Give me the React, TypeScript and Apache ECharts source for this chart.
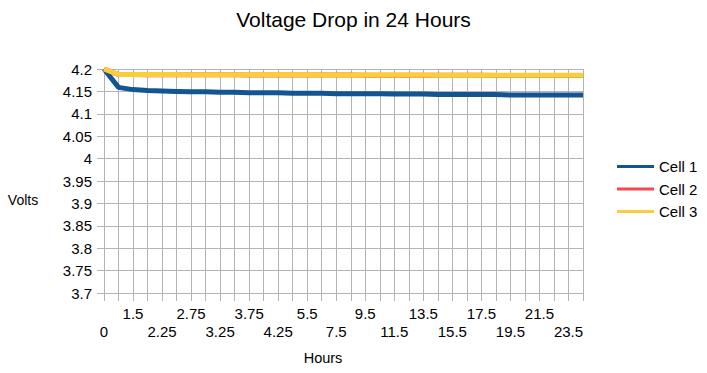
import React, { useEffect, useRef } from "react";
import * as echarts from "echarts";

const hours = ["0","1","1.5","2","2.25","2.5","2.75","3","3.25","3.5","3.75","4","4.25","4.5","5.5","6.5","7.5","8.5","9.5","10.5","11.5","12.5","13.5","14.5","15.5","16.5","17.5","18.5","19.5","20.5","21.5","22.5","23.5","24"];

const cell1 = [4.2,4.159,4.154,4.152,4.151,4.150,4.149,4.149,4.148,4.148,4.147,4.147,4.147,4.146,4.146,4.146,4.145,4.145,4.145,4.145,4.144,4.144,4.144,4.143,4.143,4.143,4.143,4.143,4.142,4.142,4.142,4.142,4.142,4.142];
const cell2 = [4.2,4.1875,4.1875,4.1872,4.187,4.187,4.187,4.187,4.187,4.187,4.1868,4.1868,4.1868,4.1866,4.1866,4.1865,4.1865,4.1864,4.1863,4.1862,4.1862,4.1861,4.186,4.186,4.1859,4.1858,4.1858,4.1857,4.1857,4.1856,4.1856,4.1855,4.1855,4.1855];
const cell3 = [4.2,4.188,4.188,4.1878,4.1876,4.1875,4.1874,4.1874,4.1873,4.1872,4.1872,4.1871,4.187,4.187,4.1869,4.1868,4.1868,4.1867,4.1866,4.1866,4.1865,4.1864,4.1864,4.1863,4.1862,4.1862,4.1861,4.186,4.186,4.186,4.1859,4.1859,4.1858,4.1858];

const FONT = "'Liberation Sans', Arial, sans-serif";
const GRID = "#b3b3b3";

export default function App() {
  const ref = useRef<HTMLDivElement>(null);
  useEffect(() => {
    const chart = echarts.init(ref.current!, null, { renderer: "svg" });
    chart.setOption({
      animation: false,
      backgroundColor: "#ffffff",
      textStyle: { fontFamily: FONT },
      title: {
        text: "Voltage Drop in 24 Hours",
        left: "center",
        top: 9,
        padding: 0,
        textStyle: { fontFamily: FONT, fontSize: 21, fontWeight: "normal", color: "#000" },
      },
      grid: { left: 104, right: 124, top: 69, bottom: 80, containLabel: false },
      legend: {
        orient: "vertical",
        left: 617,
        top: 158,
        padding: 0,
        icon: "rect",
        itemWidth: 37,
        itemHeight: 3,
        itemGap: 5.5,
        itemTextGap: 5,
        textStyle: { fontFamily: FONT, fontSize: 15, color: "#000", lineHeight: 17 },
        data: ["Cell 1", "Cell 2", "Cell 3"],
      },
      xAxis: {
        type: "category",
        data: hours,
        boundaryGap: false,
        axisLine: { lineStyle: { color: GRID, width: 1 } },
        axisTick: { show: true, interval: 0, length: 8, lineStyle: { color: GRID } },
        splitLine: { show: true, interval: 0, lineStyle: { color: GRID, width: 1 } },
        axisLabel: {
          interval: 1,
          margin: 11,
          fontFamily: FONT,
          fontSize: 15,
          lineHeight: 18.5,
          color: "#000",
          formatter: (v: string, i: number) => (i % 4 === 0 ? "\n" + v : v),
        },
      },
      yAxis: {
        type: "value",
        min: 3.7,
        max: 4.2,
        interval: 0.05,
        axisLine: { show: true, lineStyle: { color: GRID, width: 1 } },
        axisTick: { show: true, length: 7, lineStyle: { color: GRID } },
        splitLine: { show: true, lineStyle: { color: GRID, width: 1 } },
        axisLabel: {
          margin: 12,
          fontFamily: FONT,
          fontSize: 15,
          color: "#000",
          formatter: (v: number) => String(+v.toFixed(2)),
        },
      },
      graphic: [
        {
          type: "text",
          x: 23,
          y: 200,
          style: { text: "Volts", font: `14px ${FONT}`, fill: "#000", align: "center", verticalAlign: "middle" },
        },
        {
          type: "text",
          x: 323,
          y: 358,
          style: { text: "Hours", font: `14.5px ${FONT}`, fill: "#000", align: "center", verticalAlign: "middle" },
        },
      ],
      series: [
        { name: "Cell 1", type: "line", data: cell1, symbol: "none", color: "#135592", lineStyle: { width: 5, color: "#135592" } },
        { name: "Cell 2", type: "line", data: cell2, symbol: "none", color: "#f4474f", lineStyle: { width: 5, color: "#f4474f" } },
        { name: "Cell 3", type: "line", data: cell3, symbol: "none", color: "#fbcd38", lineStyle: { width: 5, color: "#fbcd38" } },
      ],
    });
    return () => chart.dispose();
  }, []);
  return (
    <div
      ref={ref}
      style={{ position: "fixed", left: 0, top: 0, width: 707, height: 373, background: "#fff" }}
    />
  );
}
